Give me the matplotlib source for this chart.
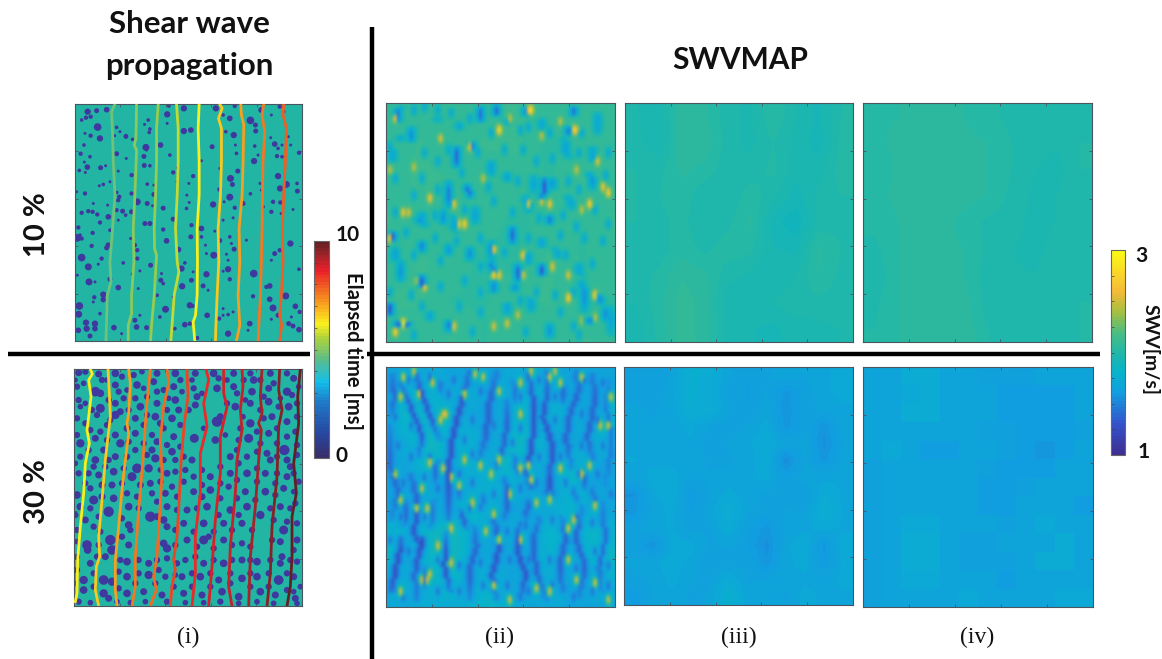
import numpy as np
import matplotlib
matplotlib.use("Agg")
import matplotlib.pyplot as plt
from matplotlib.colors import LinearSegmentedColormap, Normalize
from matplotlib.cm import ScalarMappable

W, H = 1162, 659

# ---------- data: inclusions in the phantom (x, y, radius), sample units ----------
inclusions_10 = [(83,50,8),(110,47,6),(140,44,7),(65,75,4),(78,68,5),(92,65,5),(113,96,10),(120,130,8),(92,122,5),(75,115,3),(72,150,4),(62,176,5),(90,185,4),(82,216,7),(73,201,3),(58,226,4),(76,232,3),(122,218,6),(137,212,3),(170,176,6),(170,97,4),(180,110,3),(198,124,6),(218,133,4),(164,122,3),(258,157,9),(252,184,6),(260,165,3),(253,211,6),(270,212,4),(215,240,5),(199,190,3),(175,228,3),(265,75,4),(254,88,3),(270,102,4),(268,112,4),(302,150,7),(322,58,8),(327,33,4),(372,40,8),(322,85,3),(372,108,8),(393,105,7),(330,180,4),
(400,243,5),(387,265,3),(381,300,3),(352,260,3),(340,232,5),(352,218,2),(425,197,3),(457,155,6),(468,40,8),(525,33,5),(510,70,7),(490,60,4),(522,120,8),(498,110,4),(572,76,10),(587,90,6),(588,108,6),(604,45,7),(660,35,5),(635,60,3),(672,50,4),(583,198,8),(585,153,4),(595,180,3),(527,150,3),(530,175,4),(645,147,7),(655,160,4),(667,150,3),(652,183,5),(667,185,4),(693,150,3),(718,173,5),(633,128,3),(686,125,3),(512,250,9),(534,228,6),(518,268,6),(480,220,3),(480,283,6),(655,243,8),(661,280,8),(680,268,9),(712,265,4),(713,288,6),(601,265,3),(605,285,3),(572,296,4),(510,306,9),(550,325,6),(460,328,8),(493,320,3),(525,338,5),(640,320,5),(662,322,5),(610,335,4),(635,350,5),(664,355,3),(700,343,3),(520,368,3),(490,375,3),(425,400,7),(425,425,4),(393,425,6),(465,408,3),(510,425,4),(480,436,6),(560,435,3),(523,462,6),(515,445,3),(462,480,9),(437,450,3),(440,475,3),(500,477,3),(505,495,3),(692,445,8),(660,465,5),(645,475,6),(635,495,3),(718,522,4),(582,535,10),(505,522,8),(510,552,5),(490,528,3),(440,537,8),(400,530,3),(395,555,6),(367,573,8),(365,520,8),(375,503,4),(430,572,6),(445,585,3),(303,555,6),(305,535,3),(310,565,4),(235,580,3),(217,537,3),(240,527,3),(225,450,5),(232,465,5),(212,430,3),(232,490,5),(190,503,4),(125,490,5),(65,487,10),(85,515,9),(115,507,3),(52,428,10),(60,420,4),(95,452,5),(98,413,5),(55,397,5),(65,430,5),(87,560,9),(52,540,3),(105,560,3),(175,577,7),(150,552,6),(130,598,8),(130,613,7),(103,606,5),(100,620,3),(58,632,10),(56,657,9),(78,682,8),(105,685,8),(105,700,7),(80,700,8),(55,705,7),(90,722,6),(120,655,4),(162,697,7),(185,715,3),(225,675,6),(230,695,7),(240,660,3),(260,697,6),(317,642,9),(300,665,4),(292,600,4),(340,605,3),(390,630,8),(398,632,5),(375,688,7),(390,685,5),(345,700,4),(412,728,5),(442,660,7),(478,670,5),(490,640,3),(505,715,8),(505,658,4),(490,660,3),(520,650,3),(570,685,7),(565,705,3),(580,603,5),(620,575,5),(630,572,7),(630,612,7),(640,638,9),(678,602,9),(707,633,7),(720,650,5),(695,665,3),(687,685,6),(700,692,6),(718,703,7),(655,660,6),(635,672,3),(600,640,3),(140,458,6),(145,450,7),(145,365,7),(150,405,4),(120,382,5),(112,358,5),(98,350,5),(85,348,5),(65,353,5),(143,330,3),(100,325,3),(215,350,6),(197,360,4),(188,348,6),(170,345,5),(175,375,3),(232,320,9),(262,325,6),(215,295,5),(278,332,3),(310,339,6),(255,385,6),(270,385,6),(310,403,5),(320,437,7),(340,372,6),(272,510,6),(178,305,5),(170,292,4),(175,315,5),(165,318,3),(75,295,5),(50,290,3),(118,272,3),(130,268,4),(150,260,3),(262,267,4),(282,298,6),(282,270,3),(388,322,3),(380,340,4),(395,390,5),(356,463,7)]

inclusions_30 = [(55,38,8),(75,35,7),(115,42,8),(125,60,7),(165,40,9),(185,50,7),(220,45,7),(245,35,6),(290,40,8),(345,40,9),(360,60,7),(405,40,8),(460,40,9),(475,55,7),(520,40,8),(570,40,7),(580,60,9),(630,40,8),(680,40,7),(700,55,8),
(50,80,7),(70,70,6),(105,95,12),(120,100,9),(165,75,8),(175,95,7),(230,75,9),(280,65,8),(290,95,7),(340,80,8),(400,85,7),(410,110,8),(470,85,9),(520,80,8),(530,100,7),(575,95,9),(625,85,8),(640,70,7),(680,95,10),(695,105,7),
(55,120,7),(120,145,11),(60,140,6),(165,130,8),(190,115,7),(225,115,7),(240,140,9),(290,130,8),(345,120,9),(355,150,8),(405,135,8),(525,140,9),(570,130,8),(625,125,9),(685,140,9),
(50,175,7),(110,165,7),(165,165,10),(180,155,8),(225,175,8),(285,170,9),(300,190,8),(335,175,9),(470,185,13),(480,170,8),(570,190,10),(610,175,7),(635,170,8),(680,185,8),
(60,250,10),(105,235,8),(120,215,7),(165,225,8),(180,250,10),(225,220,8),(275,225,7),(290,245,8),(340,230,8),(402,235,11),(465,240,9),(565,235,11),(625,220,8),(680,230,7),(672,270,13),
(60,290,7),(105,300,9),(130,270,8),(165,290,8),(225,270,7),(285,295,10),(275,270,8),(335,275,9),(345,300,7),(395,300,8),(510,290,8),(560,290,7),(620,280,8),(630,300,8),(680,300,8),(690,320,8),
(55,340,7),(100,320,7),(115,345,8),(160,335,9),(215,350,11),(230,325,12),(265,325,10),(320,340,8),(345,335,7),(400,350,7),(450,350,8),(510,340,8),(560,340,9),(615,340,8),(680,350,8),(650,340,7),
(50,405,9),(90,385,7),(100,420,11),(155,375,8),(160,415,9),(200,400,7),(270,370,8),(275,400,7),(315,400,8),(335,380,7),(400,395,8),(450,390,9),(505,380,7),(555,395,8),(615,395,9),(670,385,8),(700,395,6),
(60,440,9),(90,445,7),(145,455,13),(205,440,9),(270,470,13),(290,470,8),(320,440,8),(380,450,8),(440,440,9),(510,450,9),(560,440,9),(600,465,10),(660,440,8),
(75,480,8),(100,500,7),(205,495,9),(210,510,7),(310,480,9),(320,500,8),(370,490,8),(430,490,9),(490,490,8),(545,490,8),(670,510,11),(680,485,7),(710,490,7),
(80,555,12),(82,570,9),(150,540,13),(155,570,12),(205,555,8),(310,550,9),(320,565,10),(380,540,8),(430,540,11),(445,530,7),(490,540,8),(545,550,7),(660,545,8),(710,540,8),
(50,590,7),(90,610,8),(135,590,8),(200,605,9),(265,610,8),(320,595,7),(375,600,7),(430,610,8),(490,610,9),(545,600,8),(590,605,9),(665,590,8),(660,610,8),(710,605,7),
(70,660,10),(130,660,12),(155,665,10),(200,650,9),(265,645,10),(315,650,7),(365,650,8),(420,650,9),(475,660,8),(545,655,9),(590,650,9),(655,660,12),(700,650,8),
(70,690,9),(130,700,10),(145,715,8),(200,700,9),(250,695,8),(305,705,8),(370,700,8),(425,705,8),(485,695,9),(535,710,9),(600,695,9),(645,705,8),(705,715,8),(700,695,6),
(55,725,7),(90,728,6),(255,725,6),(320,725,7),(430,728,6),(480,725,7),(590,725,6),(640,730,6),
(45,60,5),(140,60,6),(200,90,6),(250,85,6),(260,110,7),(310,90,7),(325,115,6),(365,95,6),(395,60,6),(425,100,6),(500,60,6),(550,60,7),(555,120,6),(600,60,7),(610,110,7),(660,115,6),(715,80,6),(710,130,7),(75,130,6),(95,150,7),(145,120,7),(150,180,7),(205,150,7),(260,165,7),(320,150,7),(385,150,7),(500,130,7),(548,170,6),(600,150,7),(655,140,7),(710,170,7),(75,190,7),(90,210,7),(140,195,7),(200,205,8),(250,195,7),(310,205,7),(360,195,7),(430,205,6),(540,205,7),(590,215,7),(650,205,7),(705,215,7),(50,225,7),(140,240,7),(205,245,7),(250,250,7),(320,255,7),(360,260,7),(495,225,6),(535,240,7),(600,250,7),(650,250,7),(710,255,7),(85,270,7),(145,300,7),(200,290,7),(260,285,7),(310,300,7),(370,290,7),(530,270,7),(590,275,7),(650,290,7),(710,285,7),(45,310,6),(85,340,7),(135,320,7),(190,325,7),(300,330,6),(375,330,7),(425,330,7),(480,320,7),(535,310,7),(590,325,7),(700,340,7),(75,370,7),(125,375,8),(185,370,7),(240,375,8),(300,365,7),(370,365,7),(425,375,7),(480,370,7),(530,360,7),(590,365,7),(645,370,7),(715,365,7),(125,410,8),(230,410,7),(290,425,7),(350,410,7),(425,410,8),(480,415,7),(530,415,7),(585,420,7),(645,405,7),(705,430,7),(45,465,7),(115,470,7),(235,445,7),(350,450,7),(410,445,7),(475,465,7),(535,465,7),(630,445,7),(690,445,7),(50,510,7),(120,515,7),(185,475,7),(345,510,7),(400,515,7),(460,515,7),(515,510,7),(575,510,7),(640,480,7),(50,545,6),(115,555,7),(185,530,7),(345,555,7),(410,560,7),(460,565,7),(515,555,7),(570,560,7),(635,540,7),(700,570,7),(110,590,7),(180,600,7),(235,600,7),(290,600,7),(350,610,7),(405,590,7),(460,600,7),(515,600,7),(570,600,7),(630,600,7),(690,600,7),(50,630,7),(100,640,7),(175,635,7),(235,640,7),(295,630,7),(345,645,6),(395,640,7),(450,640,7),(510,640,7),(570,640,7),(625,640,7),(680,640,7),(45,670,6),(100,680,7),(175,685,7),(225,670,7),(285,670,7),(340,680,7),(395,680,7),(450,680,7),(510,670,7),(570,680,7),(625,680,7),(680,690,7),(720,680,6),(170,725,6),(210,728,6),(375,728,6),(535,730,6),(710,730,6)]

# ---------- data: wave fronts, [(x, y), ...] with elapsed time in ms ----------
front_times_10 = [4.7, 5.0, 5.3, 5.7, 6.1, 6.7, 7.1, 7.5, 7.9]
fronts_10 = [
 [(165,27),(155,50),(158,120),(160,200),(165,300),(158,400),(150,500),(153,560),(142,600),(138,737)],
 [(230,27),(228,130),(223,150),(230,165),(225,300),(220,400),(222,500),(215,600),(215,655),(205,690),(205,737)],
 [(295,27),(290,100),(290,200),(287,300),(283,400),(284,460),(290,480),(283,600),(275,690),(272,737)],
 [(350,27),(355,100),(355,200),(352,300),(347,400),(352,500),(357,530),(343,600),(333,737)],
 [(418,27),(415,100),(418,200),(418,300),(412,400),(413,500),(412,600),(407,660),(400,680),(405,737)],
 [(480,27),(487,40),(476,70),(485,100),(485,200),(482,300),(475,400),(477,500),(472,600),(468,700),(467,737)],
 [(543,27),(545,60),(552,90),(550,200),(547,300),(538,400),(540,500),(535,600),(540,690),(530,737)],
 [(612,27),(607,60),(615,110),(610,200),(608,300),(607,400),(605,500),(602,600),(595,737)],
 [(672,27),(670,60),(680,100),(677,200),(672,300),(668,400),(670,500),(665,600),(660,660),(666,690),(660,737)],
]
front_times_30 = [6.1, 6.7, 7.1, 7.5, 7.8, 8.2, 8.5, 8.8, 9.0, 9.3, 9.6, 10.0]
fronts_30 = [
 [(90,27),(96,42),(85,60),(92,110),(85,170),(80,210),(87,250),(75,310),(70,400),(60,500),(52,600),(50,700),(45,725)],
 [(143,27),(147,100),(150,170),(143,230),(135,300),(125,420),(115,530),(118,590),(108,620),(105,690),(115,738)],
 [(205,27),(210,70),(205,160),(200,190),(205,220),(195,300),(185,390),(175,500),(165,600),(165,690),(170,738)],
 [(270,27),(258,150),(248,300),(235,450),(225,590),(225,680),(215,738)],
 [(320,27),(325,70),(310,140),(300,240),(305,340),(300,430),(290,590),(280,650),(288,690),(270,738)],
 [(380,27),(383,110),(372,190),(362,310),(355,450),(350,530),(340,600),(345,630),(335,680),(330,738)],
 [(437,27),(445,60),(430,130),(440,200),(420,280),(420,400),(405,530),(405,640),(395,738)],
 [(490,27),(490,100),(500,140),(480,230),(480,340),(465,480),(455,620),(445,738)],
 [(545,27),(548,80),(540,150),(545,210),(530,300),(525,400),(510,560),(505,680),(515,738)],
 [(605,27),(600,110),(605,160),(595,190),(603,210),(595,300),(585,440),(570,590),(565,738)],
 [(658,27),(655,90),(665,150),(655,200),(650,350),(635,500),(630,640),(620,738)],
 [(720,27),(712,110),(715,190),(700,310),(708,400),(695,470),(695,590),(690,680),(680,738)],
]

# ---------- data: SWV (m/s) maps ----------
base_ii_10 = [[2.08,2.06,2.10,2.07,2.11,2.08,2.08,2.08],[2.06,2.10,2.06,2.10,2.10,2.05,2.08,2.06],[2.08,2.10,2.10,2.06,2.08,2.06,2.10,2.08],
              [2.10,2.06,2.10,2.08,2.05,2.08,2.06,2.10],[2.06,2.10,2.08,2.05,2.06,2.10,2.06,2.08],[2.10,2.10,2.06,2.06,2.08,2.10,2.06,2.06],
              [2.08,2.06,2.10,2.06,2.08,2.06,2.10,2.08]]
# streaks: polyline and swv
streaks_ii_10 = [([(55,30),(50,80)],1.45),([(90,95),(92,140)],1.5),([(230,150),(228,215)],1.35),([(297,30),(297,80)],1.4),([(347,28),(347,60)],1.35),([(440,30),(442,60)],1.55),([(585,30),(582,60)],1.4),([(565,90),(570,120)],1.45),([(555,130),(565,185)],1.6),([(495,245),(490,310)],1.3),([(260,270),(268,305)],1.35),([(205,260),(205,335)],1.45),([(120,350),(130,395)],1.6),([(190,345),(190,390)],1.55),([(285,335),(285,385)],1.6),([(400,395),(400,445)],1.35),([(30,410),(35,440)],1.3),([(40,460),(40,500)],1.6),([(60,500),(60,560)],1.55),([(120,440),(120,470)],1.45),([(125,545),(125,580)],1.25),([(205,450),(205,480)],1.55),([(265,460),(265,495)],1.5),([(335,500),(340,540)],1.45),([(340,560),(342,595)],1.5),([(415,510),(413,560)],1.35),([(405,570),(405,590)],1.55),([(487,510),(483,545)],1.25),([(30,625),(30,665)],1.25),([(50,680),(50,700)],1.3),([(80,685),(78,700)],1.3),([(205,680),(205,710)],1.45),([(380,625),(385,660)],1.6),([(450,610),(455,650)],1.6),([(460,240),(460,290)],1.65),([(510,360),(512,390)],1.45),([(380,230),(380,260)],1.65),([(635,230),(640,280)],1.55),([(610,560),(620,650)],1.55),([(660,600),(665,630)],1.5),([(680,640),(682,680)],1.5),([(630,670),(632,690)],1.45),([(520,250),(520,280)],1.55),([(640,150),(640,200)],1.65),([(330,195),(330,240)],1.6),([(240,80),(240,100)],1.65),([(275,140),(275,165)],1.45),([(175,60),(170,80)],1.75),([(60,120),(62,135)],1.65),([(35,160),(35,200)],1.65),([(330,440),(335,490)],1.55),([(445,470),(450,510)],1.65),([(490,430),(490,460)],1.6),([(530,460),(535,490)],1.65),([(600,505),(605,545)],1.65),([(110,370),(115,385)],1.55),([(215,360),(225,410)],1.65),([(440,300),(445,350)],1.65),([(570,300),(575,340)],1.65),([(145,650),(150,680)],1.65),([(510,690),(510,730)],1.55),([(695,640),(695,720)],1.65),([(380,70),(385,85)],1.7),([(490,70),(490,100)],1.65),([(660,50),(655,110)],1.65)]
# spots: (x, y, swv)
spots_ii_10 = [(357,105,2.85),(445,40,2.7),(455,40,2.85),(580,105,2.8),(595,105,2.6),(150,305,2.7),(240,390,2.7),(255,390,2.8),(135,575,2.7),(345,543,2.8),(360,543,2.7),(568,610,2.8),(645,605,2.8),(650,670,2.5),(380,685,2.6),(40,710,2.8),(65,690,3.0),(65,355,2.7),(80,355,2.6),(180,130,2.6),(270,150,2.6),(305,245,2.5),(445,325,2.7),(490,320,2.6),(515,325,2.7),(630,325,2.8),(605,345,2.5),(670,275,2.7),(685,290,2.8),(660,195,2.6),(220,325,2.7),(340,465,2.7),(430,480,2.7),(430,540,2.6),(520,520,2.6),(570,545,2.6),(25,430,2.7),(105,555,2.4),(340,695,2.6),(220,700,2.7),(415,660,2.5),(605,680,2.4),(590,225,2.5),(540,80,2.5),(45,70,2.6),(390,65,2.5),(100,215,2.5),(490,120,2.5),(25,225,2.5)]
dips_ii_10_swv = 1.65
dips_ii_10 = [(100,40),(130,35),(175,40),(215,55),(265,70),(330,110),(420,105),(445,90),(515,115),(610,115),(660,100),(30,150),(130,170),(170,195),(200,160),(295,175),(370,165),(430,165),(470,195),(520,190),(600,175),(690,175),(45,250),(120,245),(175,285),(245,235),(325,275),(410,255),(570,260),(600,280),(680,240),(45,350),(100,300),(165,365),(250,340),(340,320),(400,350),(480,370),(555,360),(590,395),(650,345),(690,390),(75,410),(160,430),(230,440),(300,430),(450,430),(540,420),(620,430),(670,440),(100,480),(180,500),(300,520),(370,470),(560,480),(640,510),(30,590),(90,600),(180,580),(250,560),(300,590),(470,590),(530,600),(580,590),(120,640),(240,640),(300,650),(420,620),(540,650),(580,700),(100,720),(280,710),(440,710),(600,720)]

base_ii_30 = [[1.66,1.66,1.70,1.68,1.66,1.66,1.70,1.76,1.68,1.66,1.66,1.68],[1.64,1.80,1.78,1.68,1.74,1.66,1.74,1.80,1.74,1.66,1.68,1.70],
              [1.66,1.88,1.84,1.80,1.68,1.66,1.74,1.82,1.78,1.72,1.68,1.90],[1.66,1.74,1.90,1.76,1.78,1.66,1.84,1.86,1.68,1.68,1.72,1.82],
              [1.66,1.68,1.88,1.72,1.76,1.72,1.88,1.74,1.72,1.82,1.66,1.72],[1.64,1.66,1.68,1.66,1.72,1.78,1.74,1.68,1.66,1.84,1.68,1.66],
              [1.66,1.76,1.74,1.68,1.86,1.74,1.68,1.66,1.72,1.80,1.72,1.68],[1.82,1.72,1.84,1.94,1.76,1.68,1.74,1.72,1.82,1.72,1.84,1.82],
              [1.84,1.66,1.82,1.96,1.72,1.68,1.68,1.72,1.78,1.68,1.82,1.86],[1.68,1.74,1.76,1.86,1.68,1.82,1.66,1.74,1.72,1.68,1.72,1.74],
              [1.72,1.68,1.74,1.72,1.76,1.84,1.72,1.68,1.72,1.66,1.68,1.68]]
streaks_ii_30 = [
 ([(55,70),(85,130),(105,180),(125,230),(115,290)],1.3),([(100,30),(130,120),(165,215),(180,240)],1.3),
 ([(270,30),(245,120),(225,200),(210,260),(205,340),(200,430),(205,480)],1.25),([(350,30),(330,120),(315,240),(295,300)],1.35),
 ([(385,120),(385,180),(370,260),(345,330)],1.35),([(445,30),(460,120),(465,200),(450,290),(440,340),(455,390)],1.25),
 ([(500,30),(505,90),(490,170),(520,260),(510,370),(520,410)],1.3),([(590,30),(600,90),(570,170),(560,240),(580,330)],1.35),
 ([(640,40),(650,120),(625,230),(640,300)],1.35),([(690,60),(680,140),(700,230),(690,320),(680,380)],1.45),
 ([(30,200),(25,310),(50,400),(30,480)],1.4),([(90,340),(110,430),(100,520),(120,560),(100,650),(110,720)],1.3),
 ([(55,530),(55,580),(40,640),(35,700)],1.25),([(130,620),(135,690)],1.45),([(200,520),(190,620),(210,700)],1.25),
 ([(280,500),(290,560),(265,640),(270,720)],1.35),([(340,470),(360,560),(335,650),(350,720)],1.3),
 ([(420,490),(410,570),(440,650),(420,720)],1.3),([(480,470),(460,550),(470,640),(500,720)],1.35),
 ([(545,470),(560,540),(540,620),(550,700)],1.35),([(610,440),(590,540),(620,620),(600,710)],1.35),
 ([(670,430),(680,540),(660,630),(670,700)],1.4),([(310,400),(300,460)],1.45),([(240,450),(260,510)],1.35),
 ([(160,420),(150,510)],1.45),([(120,530),(120,575)],1.2),([(375,350),(385,440),(370,480)],1.35),
 ([(515,340),(505,400)],1.25),([(640,380),(650,450),(690,460)],1.45),
 ([(30,40),(40,110),(30,170)],1.4),([(175,60),(185,100)],1.45),([(400,60),(410,130)],1.45),([(555,70),(550,130)],1.4),
 ([(230,380),(240,420)],1.45),([(445,420),(440,480)],1.4),([(580,380),(595,430)],1.45),([(170,300),(160,370)],1.4),
 ([(75,420),(70,500)],1.4),([(620,330),(615,390)],1.4),([(400,280),(415,350)],1.45)]
spots_ii_30_swv = 2.6
spots_ii_30 = [(65,48),(100,35),(118,100),(158,70),(185,160),(180,180),(195,160),(250,100),(305,50),(360,95),(425,65),(458,30),(510,55),(540,70),(605,55),(690,195),(668,195),(605,340),(185,325),(190,325),(45,340),(300,315),(330,345),(425,330),(450,320),(360,298),(150,305),(420,160),(235,380),(390,400),(470,430),(140,450),(60,420),(215,505),(175,558),(360,540),(570,510),(420,545),(215,610),(140,665),(60,695),(470,685),(510,695),(390,720),(455,360),(540,325),(635,320),(570,600),(650,670),(215,350),(105,450),(345,465),(510,420),(580,480),(250,300),(125,385),(280,430),(650,440),(320,520),(340,680),(120,660),(595,660),(690,720),(700,110),(60,110),(285,40),(530,35),(150,645)]
dips_ii_30_swv = 1.42
dips_ii_30 = [(40,90),(80,60),(150,50),(200,100),(220,60),(300,90),(420,110),(480,60),(530,110),(620,60),(670,70),(40,170),(90,200),(150,170),(280,180),(340,200),(420,210),(530,180),(610,160),(660,180),(50,260),(90,290),(150,290),(250,240),(280,280),(400,250),(480,290),(540,290),(610,260),(670,260),(70,370),(130,350),(170,390),(240,340),(280,370),(340,400),(420,390),(470,370),(560,370),(600,340),(660,340),(700,400),(60,470),(130,470),(200,420),(270,450),(380,520),(440,500),(520,480),(590,470),(640,490),(30,540),(80,580),(170,600),(240,620),(300,610),(390,600),(450,600),(510,600),(590,630),(650,580),(690,620),(30,690),(70,710),(170,700),(240,700),(310,680),(380,680),(450,700),(520,680),(580,710),(640,700),(690,680)]

map_iii_10 = [
[197,195,205,204,198,196,203,197,193,200],[198,194,205,206,198,196,200,196,192,201],[200,199,204,202,198,198,201,195,195,202],
[200,200,202,197,197,202,198,192,198,200],[200,199,201,197,199,204,192,188,198,199],[199,198,202,199,202,201,194,193,204,200],
[198,201,206,204,198,196,194,197,203,199],[197,202,208,205,195,195,197,199,199,198],[195,201,208,205,196,194,193,195,196,197]]
map_iv_10 = [
[203,203,204,204,203,201,199,198,198,199],[202,204,205,205,204,203,200,198,197,200],[200,204,205,205,204,203,200,197,196,200],
[202,204,205,205,204,203,199,196,197,199],[201,203,205,204,202,199,198,196,197,199],[199,203,204,204,203,199,197,196,198,199],
[197,203,205,205,203,198,197,197,198,199],[199,203,205,205,204,198,197,198,199,200],[200,203,204,205,205,200,198,198,199,200]]
map_iii_30 = [
[164,163,166,176,174,166,163,165,168,166,168,170],[165,164,167,176,172,165,162,166,158,164,168,170],[166,165,167,175,174,166,163,167,157,165,166,168],
[167,166,166,170,165,164,166,170,158,164,157,168],[168,167,167,168,164,166,168,172,166,167,155,166],[169,168,168,168,165,165,167,172,154,166,158,168],
[166,170,170,166,166,167,168,170,162,168,168,168],[156,168,172,160,166,170,167,165,164,162,172,168],[158,166,170,162,167,175,166,164,166,165,176,168],
[165,168,169,165,165,172,163,158,166,168,170,168],[164,156,170,170,165,166,162,155,168,172,158,172],[166,168,171,168,163,164,165,157,168,170,160,170],
[165,166,170,166,165,172,165,166,168,168,166,170],[160,166,168,165,166,178,167,168,165,170,168,168]]
map_iv_30 = [
[166,166,172,174,166,166,165,165,165,166,166,166],[166,166,171,173,166,166,166,162,162,162,162,166],[166,166,172,173,166,166,166,162,161,161,161,166],
[166,166,166,166,166,166,163,163,161,161,161,165],[166,170,166,162,162,166,166,163,160,159,162,166],[164,166,166,166,166,166,163,162,160,162,166,166],
[164,166,166,166,166,166,162,162,163,166,166,166],[164,166,166,166,168,166,162,162,166,166,166,161],[165,166,171,171,166,166,166,163,166,170,166,166],
[165,166,172,173,166,163,163,166,166,166,172,166],[165,166,172,173,166,163,163,163,166,172,173,166],[165,168,171,171,166,166,166,162,166,166,168,166],
[165,168,168,166,168,170,166,166,166,168,170,170]]

# ---------- labels ----------
row_labels = ["10 %", "30 %"]
column_labels = ["(i)", "(ii)", "(iii)", "(iv)"]
time_ticks = [0, 10]
swv_ticks = [1, 3]

# ---------- colours ----------
parula = LinearSegmentedColormap.from_list("parula_like", [
    (0.00,(.24,.18,.58)),(0.15,(.20,.33,.80)),(0.30,(.07,.62,.88)),(0.40,(.03,.70,.80)),
    (0.50,(.13,.72,.66)),(0.60,(.30,.74,.50)),(0.70,(.65,.75,.25)),(0.80,(.96,.73,.22)),
    (0.90,(.98,.85,.15)),(1.00,(.98,.98,.07))], N=64)
elapsed = LinearSegmentedColormap.from_list("elapsed_like", [
    (0.00,(.22,.18,.42)),(0.10,(.16,.27,.62)),(0.25,(.12,.47,.78)),(0.35,(.08,.75,.92)),
    (0.45,(.35,.74,.55)),(0.55,(.67,.82,.24)),(0.62,(.98,.94,.12)),(0.70,(.98,.67,.12)),
    (0.80,(.94,.35,.14)),(0.87,(.92,.12,.16)),(0.95,(.59,.14,.16)),(1.00,(.39,.12,.14))], N=64)
TEAL = "#22b5a3"
BLOB = "#3f389f"
FRAME = "#4a5560"

plt.rcParams["font.family"] = ["Lato", "DejaVu Sans"]
fig = plt.figure(figsize=(W/100, H/100), dpi=100, facecolor="white")

def px_axes(x0, y0, x1, y1, **kw):
    return fig.add_axes([x0/W, 1-y1/H, (x1-x0)/W, (y1-y0)/H], **kw)

def frame(ax, n=5):
    ax.set_xticks(np.linspace(*ax.get_xlim(), n+1)[1:-1])
    ax.set_yticks(np.linspace(*ax.get_ylim(), n+1)[1:-1])
    ax.tick_params(direction="in", length=2, width=0.6, color=FRAME, labelbottom=False, labelleft=False,
                   top=True, right=True)
    for s in ax.spines.values():
        s.set_color(FRAME); s.set_linewidth(0.8)

def phantom(box, blobs, grow, fronts, times, xlim, ylim):
    ax = px_axes(*box)
    ax.set_facecolor(TEAL)
    ax.set_xlim(*xlim); ax.set_ylim(*ylim)
    b = np.array(blobs, float)
    scale = (box[2]-box[0]) / (xlim[1]-xlim[0]) * 0.72
    ax.scatter(b[:,0], b[:,1], s=(2*(b[:,2]+grow)*scale)**2, color=BLOB, linewidths=0, zorder=2)
    tn = Normalize(0, 10)
    for f, t in zip(fronts, times):
        f = np.array(f)
        ax.plot(f[:,0], f[:,1], color=elapsed(tn(t)), lw=2.0, zorder=3, solid_joinstyle="round")
    frame(ax)

def swv_panel(box, grid, interp, lims=(0, 100, 100, 0)):
    ax = px_axes(*box)
    ax.imshow(np.asarray(grid), cmap=parula, vmin=1, vmax=3, aspect="auto", interpolation=interp, extent=lims)
    frame(ax)
    return ax

# raster composition for the (ii) maps: coarse background + read streaks and spots
NX, NY = 86, 84
X0, X1, Y0, Y1 = 18.0, 705.0, 25.0, 740.0

def resample(grid):
    g = np.asarray(grid, float)
    rows = np.linspace(0, g.shape[0]-1, NY); cols = np.linspace(0, g.shape[1]-1, NX)
    tmp = np.array([np.interp(cols, np.arange(g.shape[1]), r) for r in g])
    return np.array([np.interp(rows, np.arange(g.shape[0]), tmp[:, j]) for j in range(NX)]).T

def put(img, base, r, c, v, w):
    if 0 <= r < NY and 0 <= c < NX:
        t = base[r, c] + (v - base[r, c]) * w
        if abs(t - base[r, c]) > abs(img[r, c] - base[r, c]):
            img[r, c] = t

def to_rc(x, y):
    return (y - Y0) / (Y1 - Y0) * (NY - 1), (x - X0) / (X1 - X0) * (NX - 1)

def compose(base_grid, streaks, spots, halo):
    base = resample(base_grid)
    img = base.copy()
    for line, v in streaks:
        p = np.array(line, float)
        r0, _ = to_rc(0, p[0, 1]); r1, _ = to_rc(0, p[-1, 1])
        for r in range(int(round(r0)), int(round(r1)) + 1):
            frac = (r - r0) / max(r1 - r0, 1)
            edge = min(1.0, 0.55 + 1.5 * min(frac, 1 - frac))
            y = Y0 + r / (NY - 1) * (Y1 - Y0)
            x = np.interp(y, p[:, 1], p[:, 0])
            _, c = to_rc(x, y)
            c = int(round(c))
            for dc, w in ((0, 1.0), (-1, 0.55), (1, 0.55), (-2, halo), (2, halo)):
                put(img, base, r, c + dc, v, w * edge)
    for x, y, v in spots:
        r, c = to_rc(x, y)
        r, c = int(round(r)), int(round(c))
        for dr, wr in ((0, 1.0), (-1, 0.75), (1, 0.75), (-2, 0.25), (2, 0.25)):
            for dc, wc in ((0, 1.0), (-1, 0.35), (1, 0.35)):
                put(img, base, r + dr, c + dc, v, wr * wc)
    return img

phantom((75,104,302,341), inclusions_10, 1.5, fronts_10, front_times_10, (45,727), (737,27))
phantom((74,369,302,606), inclusions_30, 2.5, fronts_30, front_times_30, (41,725), (738,27))

spots_10 = spots_ii_10 + [(x, y, dips_ii_10_swv) for x, y in dips_ii_10]
spots_30 = [(x, y, spots_ii_30_swv) for x, y in spots_ii_30] + [(x, y, dips_ii_30_swv) for x, y in dips_ii_30]
swv_panel((386,103,615,342), compose(base_ii_10, streaks_ii_10, spots_10, 0.25), "bicubic")
swv_panel((386,367,615,607), compose(base_ii_30, streaks_ii_30, spots_30, 0.2), "bicubic")
swv_panel((625,103,853,342), np.array(map_iii_10)/100, "bilinear")
swv_panel((624,367,853,605), np.array(map_iii_30)/100, "bilinear")
swv_panel((863,103,1092,342), np.array(map_iv_10)/100, "bilinear")
swv_panel((863,367,1093,607), np.array(map_iv_30)/100, "nearest")

# colour bars
cax1 = px_axes(314,241,329,458)
cb1 = fig.colorbar(ScalarMappable(Normalize(time_ticks[0], time_ticks[1]), elapsed), cax=cax1)
cb1.set_ticks(np.arange(0, 11)); cb1.set_ticklabels([])
cb1.ax.tick_params(direction="in", length=2, width=0.5, color="#444444", left=True, right=False)
cb1.outline.set_edgecolor("#666666")
cax2 = px_axes(1111,250,1125,455)
cb2 = fig.colorbar(ScalarMappable(Normalize(swv_ticks[0], swv_ticks[1]), parula), cax=cax2)
cb2.set_ticks(np.arange(1, 3.01, 0.25)); cb2.set_ticklabels([])
cb2.ax.tick_params(direction="in", length=2, width=0.5, color="#444444", left=True, right=False)
cb2.outline.set_edgecolor("#666666")

# overlay in figure pixels for rules and text
ov = fig.add_axes([0,0,1,1], zorder=10)
ov.set_xlim(0,W); ov.set_ylim(H,0); ov.axis("off"); ov.patch.set_alpha(0)
ov.plot([372,372],[27,659], color="black", lw=3.2, solid_capstyle="butt")
ov.plot([8,310],[354,354], color="black", lw=3.2, solid_capstyle="butt")
ov.plot([367,1100],[354,354], color="black", lw=3.2, solid_capstyle="butt")

bold = dict(fontweight="bold", color="#111111", ha="center", va="center")
ov.text(189, 24, "Shear wave", fontsize=22.5, **bold)
ov.text(189, 66, "propagation", fontsize=22.5, **bold)
ov.text(740, 60, "SWVMAP", fontsize=21.5, **bold)
ov.text(37, 225, row_labels[0], fontsize=21, rotation=90, **bold)
ov.text(37, 492, row_labels[1], fontsize=21, rotation=90, **bold)
ov.text(348, 235, str(time_ticks[1]), fontsize=15, **bold)
ov.text(341, 456, str(time_ticks[0]), fontsize=15, **bold)
ov.text(353, 351, "Elapsed time [ms]", fontsize=14.5, rotation=-90, **bold)
ov.text(1141, 256, str(swv_ticks[1]), fontsize=15, **bold)
ov.text(1144, 452, str(swv_ticks[0]), fontsize=15, **bold)
ov.text(1151, 349, "SWV[m/s]", fontsize=14, rotation=-90, **bold)
for x, s_ in zip([188, 500, 739, 977], column_labels):
    ov.text(x, 637, s_, fontsize=17, family=["Liberation Serif"], ha="center", va="center", color="#111111")

fig.savefig("out.png", dpi=100, facecolor="white")
